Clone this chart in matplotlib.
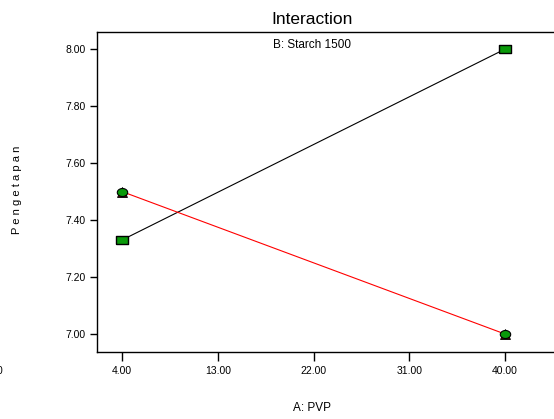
import matplotlib
matplotlib.use("Agg")
import matplotlib.pyplot as plt
import numpy as np

plt.rcParams['font.family'] = ['Liberation Sans', 'DejaVu Sans']

# data
pvp = [4.0, 40.0]
starch_low = [7.33, 8.00]   # black line
starch_high = [7.50, 7.00]  # red line
x_ticks = [4.0, 13.0, 22.0, 31.0, 40.0]
y_ticks = [7.0, 7.2, 7.4, 7.6, 7.8, 8.0]

# wide box and wide dot like the original markers
box = [(-1.4, -1), (1.4, -1), (1.4, 1), (-1.4, 1), (-1.4, -1)]
t = np.linspace(0, 2 * np.pi, 40)
dot = list(zip(1.3 * np.cos(t), np.sin(t)))

fig = plt.figure(figsize=(5.54, 4.19), dpi=100)
ax = fig.add_axes([97/554, 67/419, 457/554, 320/419])

ax.plot(pvp, starch_low, color='black', lw=0.8, zorder=2)
ax.plot(pvp, starch_high, color='red', lw=0.8, zorder=2)

ax.plot(pvp, starch_low, ls='none', marker=box, ms=8, mfc='#0a9a0a',
        mec='black', mew=1.0, zorder=3)
ax.plot(pvp, starch_high, ls='none', marker='^', ms=7, mfc='#5a0000',
        mec='black', mew=0.6, zorder=3)
ax.plot(pvp, starch_high, ls='none', marker=dot, ms=7.5, mfc='#0a9a0a',
        mec='black', mew=0.8, zorder=4)

ax.set_xlim(1.65, 44.6)
ax.set_ylim(6.937, 8.06)
ax.set_xticks(x_ticks)
ax.set_xticklabels([f"{v:.2f}" for v in x_ticks])
ax.set_yticks(y_ticks)
ax.set_yticklabels([f"{v:.2f}" for v in y_ticks])
ax.tick_params(axis='y', direction='out', length=5, width=1, pad=3, labelsize=7.5)
ax.tick_params(axis='x', direction='out', length=6.5, width=1, pad=3.5, labelsize=7.5)
ax.spines['right'].set_visible(False)
for s in ['left', 'top', 'bottom']:
    ax.spines[s].set_linewidth(1.0)

fig.text(312/554, 1 - 20/419, "Interaction", ha='center', va='center', fontsize=12.5)
fig.text(312/554, 1 - 45/419, "B: Starch 1500", ha='center', va='center', fontsize=8.5)
fig.text(312/554, 1 - 408/419, "A: PVP", ha='center', va='center', fontsize=8.5)
fig.text(17/554, 1 - 190/419, " ".join("Pengetapan"), ha='center', va='center',
         rotation=90, fontsize=8)
fig.text(-3/554, 1 - 371/419, "0", ha='left', va='center', fontsize=7.5)

fig.savefig("out.png", dpi=100)
